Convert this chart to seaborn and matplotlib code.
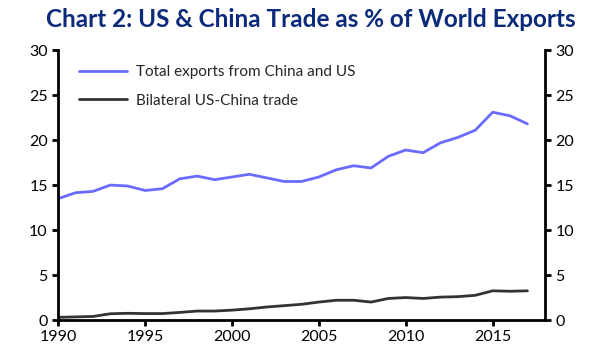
#!/usr/bin/env python

import matplotlib
matplotlib.use('Agg')
import matplotlib.pyplot as plt
import matplotlib.ticker as ticker
import pandas as pd
import seaborn as sns

YEARS = list(range(1990, 2018))
TOTAL_EXPORTS = [
    13.5, 14.15, 14.3, 15.0, 14.9, 14.4, 14.6, 15.7, 16.0, 15.6,
    15.9, 16.2, 15.8, 15.4, 15.4, 15.9, 16.7, 17.15, 16.9, 18.2,
    18.9, 18.6, 19.7, 20.3, 21.1, 23.1, 22.7, 21.8
]
BILATERAL = [
    0.3, 0.35, 0.4, 0.7, 0.75, 0.72, 0.72, 0.85, 1.0, 1.0,
    1.1, 1.25, 1.45, 1.6, 1.75, 2.0, 2.2, 2.2, 2.0, 2.4,
    2.5, 2.4, 2.55, 2.6, 2.75, 3.25, 3.2, 3.25
]
SERIES_NAMES = ['Total exports from China and US', 'Bilateral US-China trade']
TITLE = 'Chart 2: US & China Trade as % of World Exports'


def main():
    data = pd.DataFrame({
        'year': YEARS * 2,
        'value': TOTAL_EXPORTS + BILATERAL,
        'series': [SERIES_NAMES[0]] * len(YEARS) + [SERIES_NAMES[1]] * len(YEARS),
    })

    sns.set_style('ticks')
    plt.rcParams['font.family'] = ['Lato', 'DejaVu Sans']

    fig = plt.figure(figsize=(6, 3.58), dpi=100)
    ax = fig.add_axes([0.097, 0.106, 0.811, 0.754])
    sns.lineplot(
        data=data, x='year', y='value', hue='series',
        palette={SERIES_NAMES[0]: '#6b6bff', SERIES_NAMES[1]: '#333333'},
        lw=2, ax=ax
    )
    ax.set(xlabel='', ylabel='', xlim=(1990, 2018), ylim=(0, 30))
    ax.xaxis.set_major_locator(ticker.FixedLocator(range(1990, 2016, 5)))
    ax.yaxis.set_major_locator(ticker.MultipleLocator(5))
    ax.tick_params(axis='both', labelsize=11.5, width=2, length=4, colors='black')
    for side in ['left', 'bottom']:
        ax.spines[side].set_linewidth(2)
        ax.spines[side].set_color('black')
    ax.spines['top'].set_visible(False)
    ax.spines['right'].set_visible(False)

    ax2 = ax.twinx()
    ax2.set_ylim(0, 30)
    ax2.yaxis.set_major_locator(ticker.MultipleLocator(5))
    ax2.tick_params(axis='y', labelsize=11.5, width=2, length=4, colors='black')
    ax2.spines['right'].set_linewidth(2)
    ax2.spines['right'].set_color('black')
    for side in ['top', 'left', 'bottom']:
        ax2.spines[side].set_visible(False)

    leg = ax.legend(
        loc='upper left', bbox_to_anchor=(0.015, 0.995), frameon=False,
        fontsize=11, handlelength=3.1, labelspacing=0.95, handletextpad=0.6
    )
    for line in leg.get_lines():
        line.set_linewidth(2)

    fig.text(0.518, 0.945, TITLE, ha='center', va='center',
             fontsize=17.5, fontweight='bold', color='#0b2a7a')

    fig.savefig('out.png', dpi=100)
    plt.close(fig)


if __name__ == '__main__':
    main()
